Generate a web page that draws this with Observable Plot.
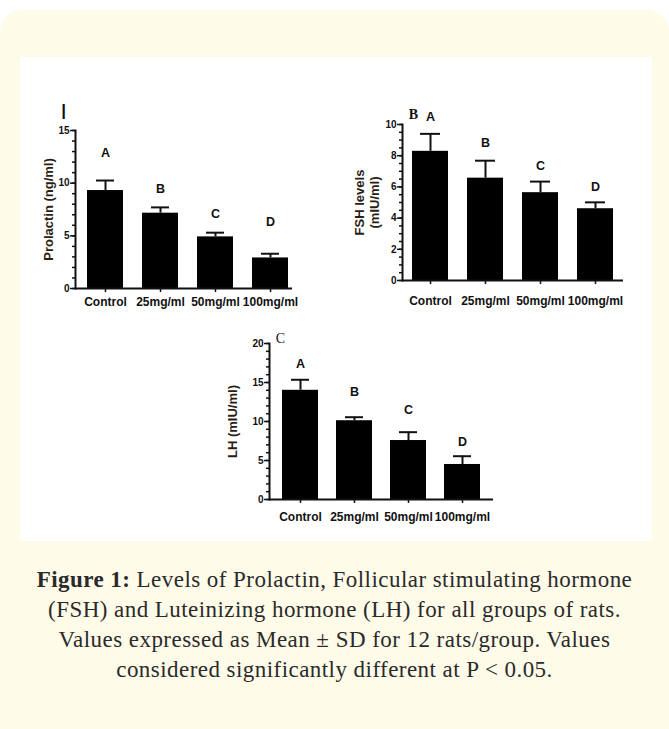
<!DOCTYPE html>
<html>
<head>
<meta charset="utf-8">
<script src="https://cdn.jsdelivr.net/npm/d3@7"></script>
<script src="https://cdn.jsdelivr.net/npm/@observablehq/plot@0.6"></script>
<style>
  html, body { margin: 0; padding: 0; background: #ffffff; }
  #page { position: relative; width: 669px; height: 729px; overflow: hidden; background: #ffffff; }
  #card { position: absolute; left: 0; top: 10px; width: 669px; height: 740px; background: #fffbe9; border-radius: 22px; }
  #panel { position: absolute; left: 20px; top: 57px; width: 632px; height: 484px; background: #ffffff; }
  .plot { position: absolute; }
  #caption { position: absolute; left: 0; top: 565px; width: 669px; text-align: center;
             font-family: "Liberation Serif", "Times New Roman", serif; font-size: 23px; letter-spacing: 0.45px; line-height: 30px; color: #2a2a2a; }
  #caption b { font-weight: bold; }
</style>
</head>
<body>
<div id="page">
  <div id="card"></div>
  <div id="panel"></div>
  <div id="caption"><b>Figure 1:</b> Levels of Prolactin, Follicular stimulating hormone<br>(FSH) and Luteinizing hormone (LH) for all groups of rats.<br>Values expressed as Mean ± SD for 12 rats/group. Values<br>considered significantly different at P &lt; 0.05.</div>
</div>
<script>
// ---- data ----
const groups = ["Control", "25mg/ml", "50mg/ml", "100mg/ml"];
const letters = ["A", "B", "C", "D"];

const prolactinMean = [9.3, 7.15, 4.9, 2.9];
const prolactinSD = [0.95, 0.55, 0.4, 0.4];
const prolactinLetterY = [12.9, 9.4, 7.1, 6.3];
const prolactinTicks = [0, 5, 10, 15];
const prolactinMinor = d3.range(0, 15.01, 1);

const fshMean = [8.28, 6.56, 5.63, 4.6];
const fshSD = [1.12, 1.12, 0.71, 0.41];
const fshLetterY = [10.5, 8.8, 7.35, 6.0];
const fshTicks = [0, 2, 4, 6, 8, 10];
const fshMinor = d3.range(0, 10.01, 0.5);

const lhMean = [14.0, 10.1, 7.56, 4.49];
const lhSD = [1.35, 0.45, 1.07, 1.06];
const lhLetterY = [17.4, 13.75, 11.5, 7.35];
const lhTicks = [0, 5, 10, 15, 20];
const lhMinor = d3.range(0, 20.01, 1);

const FONT = "'Liberation Sans', Arial, Helvetica, sans-serif";
const INK = "#111";

function rows(mean, sd, ly) {
  return groups.map((g, i) => ({ g, mean: mean[i], top: mean[i] + sd[i], ly: ly[i], letter: letters[i] }));
}

function panel(cfg) {
  const data = rows(cfg.mean, cfg.sd, cfg.ly);
  const marks = [
    Plot.barY(data, { x: "g", y: "mean", fill: "#000" }),
    Plot.ruleX(data, { x: "g", y1: "mean", y2: "top", stroke: INK, strokeWidth: 2 }),
    Plot.tickY(data, { x: "g", y: "top", stroke: INK, strokeWidth: 2, insetLeft: cfg.capInset, insetRight: cfg.capInset }),
    Plot.text(data, { x: "g", y: "ly", text: "letter", fontSize: 12.5, fontWeight: "bold", fill: INK, lineAnchor: "middle" }),
    Plot.ruleY([0], { stroke: INK, strokeWidth: 2 }),
    Plot.frame({ anchor: "left", stroke: INK, strokeWidth: 2 }),
    Plot.axisY({ ticks: cfg.minor, tickSize: 3, text: null, label: null, stroke: INK, strokeWidth: 1.5 }),
    Plot.axisY({ ticks: cfg.ticks, tickSize: 5, tickPadding: 1, label: null, fontSize: 10, fontWeight: "bold", fill: INK, stroke: INK, strokeWidth: 1.5 }),
    Plot.axisX({ tickSize: 4, tickPadding: cfg.xPad, label: null, fontSize: 12, fontWeight: "bold", fill: INK, stroke: INK, strokeWidth: 1.5 }),
    Plot.text([cfg.ylabel], { frameAnchor: "left", text: d => d, rotate: -90, dx: cfg.ylabelDx, textAnchor: "middle", lineAnchor: "middle", lineHeight: 1.15, fontSize: 13, fontWeight: "bold", fill: "#2b1d16" })
  ];
  if (cfg.tag) {
    marks.push(Plot.text([cfg.tag], { frameAnchor: "top-left", text: d => d, dx: cfg.tagDx, dy: cfg.tagDy, fontSize: cfg.tagSize, fontWeight: cfg.tagWeight, fontFamily: cfg.tagFont, fill: INK, lineAnchor: "middle", textAnchor: "middle" }));
  }
  const svg = Plot.plot({
    width: cfg.width, height: cfg.height,
    marginLeft: cfg.ml, marginRight: cfg.mr, marginTop: cfg.mt, marginBottom: cfg.mb,
    x: { domain: groups, paddingInner: 0.34, paddingOuter: cfg.po, align: cfg.align, axis: null },
    y: { domain: cfg.domain, axis: null },
    style: { fontFamily: FONT, background: "transparent", overflow: "visible" },
    marks
  });
  const wrap = document.createElement("div");
  wrap.className = "plot";
  wrap.style.left = cfg.left + "px";
  wrap.style.top = cfg.top + "px";
  wrap.appendChild(svg);
  document.getElementById("page").appendChild(wrap);
}

panel({
  left: 20, top: 90, width: 290, height: 230, ml: 55, mr: 18, mt: 40, mb: 32,
  po: 0.117, align: 0.77, domain: [0, 15],
  mean: prolactinMean, sd: prolactinSD, ly: prolactinLetterY,
  ticks: prolactinTicks, minor: prolactinMinor, xPad: 5,
  ylabel: "Prolactin (ng/ml)", ylabelDx: -27, capInset: 9,
  tag: "|", tagDx: -12, tagDy: -20, tagSize: 17, tagWeight: "bold", tagFont: FONT
});

panel({
  left: 330, top: 90, width: 310, height: 230, ml: 72, mr: 17, mt: 34, mb: 40,
  po: 0.162, align: 0.5, domain: [0, 10],
  mean: fshMean, sd: fshSD, ly: fshLetterY,
  ticks: fshTicks, minor: fshMinor, xPad: 12,
  ylabel: "FSH levels\n(mIU/ml)", ylabelDx: -36, capInset: 8,
  tag: "B", tagDx: 11, tagDy: -10, tagSize: 14, tagWeight: "bold", tagFont: "'Liberation Serif', 'Times New Roman', serif"
});

panel({
  left: 200, top: 330, width: 310, height: 210, ml: 69, mr: 17, mt: 13, mb: 41,
  po: 0.21, align: 0.5, domain: [0, 20],
  mean: lhMean, sd: lhSD, ly: lhLetterY,
  ticks: lhTicks, minor: lhMinor, xPad: 9,
  ylabel: "LH (mIU/ml)", ylabelDx: -37, capInset: 9,
  tag: "C", tagDx: 11, tagDy: -5, tagSize: 14, tagWeight: "normal", tagFont: "'Liberation Serif', 'Times New Roman', serif"
});
</script>
</body>
</html>
